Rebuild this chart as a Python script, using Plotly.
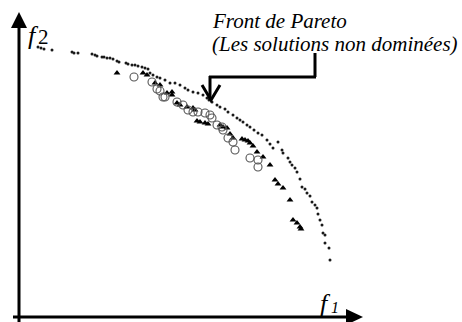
import plotly.graph_objects as go

# Objective space: f1 to the right, f2 upwards (origin where the axes cross)
# Pareto front (non-dominated solutions)
front_f1 = [19, 22, 25, 33, 53, 55, 59, 73, 76, 78, 83, 85, 88, 91, 94, 98, 100,
            107, 109, 113, 116, 119, 123, 126, 129, 131, 134, 138, 141, 146, 151,
            156, 161, 166, 169, 174, 179, 184, 188, 190, 193, 198, 201, 206, 209,
            214, 218, 221, 224, 228, 231, 235, 239, 243, 248, 251, 254, 259, 263,
            264, 269, 271, 273, 276, 278, 281, 283, 286, 288, 291, 293, 296, 298,
            299, 301, 303, 304, 306, 306, 310, 311]
front_f2 = [270, 269, 268, 267, 265, 264, 264, 263, 262, 261, 260, 260, 259, 259,
            258, 256, 255, 254, 253, 252, 252, 251, 250, 249, 248, 244, 242, 240,
            239, 237, 234, 234, 232, 229, 227, 225, 224, 222, 219, 217, 215, 212,
            210, 208, 205, 202, 199, 197, 195, 192, 190, 187, 184, 182, 177, 173,
            169, 175, 167, 164, 159, 155, 152, 149, 145, 138, 130, 128, 124, 121,
            115, 112, 109, 103, 97, 92, 84, 82, 74, 69, 57, 56, 40]

# Second population (filled triangles)
tri_f1 = [98, 124, 128, 136, 141, 148, 153, 153, 158, 161, 168, 174, 176, 178,
          181, 186, 189, 201, 204, 208, 211, 214, 223, 226, 229, 231, 234, 238,
          244, 251, 256, 259, 264, 271, 274, 278, 281, 282]
tri_f2 = [244, 244, 242, 234, 232, 224, 222, 225, 214, 212, 210, 209, 207, 196,
          195, 194, 193, 192, 190, 189, 183, 179, 178, 177, 176, 174, 171, 165,
          160, 152, 137, 133, 129, 117, 97, 94, 90, 88]

# Third population (open circles)
circ_f1 = [115, 133, 138, 141, 144, 146, 158, 164, 169, 174, 179, 186, 191, 193,
           198, 203, 204, 209, 214, 216, 231, 239, 239]
circ_f2 = [240, 235, 228, 226, 220, 220, 215, 212, 207, 205, 205, 204, 202, 199,
           192, 190, 187, 179, 175, 167, 159, 157, 150]

SERIF = "Liberation Serif"

fig = go.Figure()
fig.add_trace(go.Scatter(x=front_f1, y=front_f2, mode="markers",
                         marker=dict(symbol="circle", size=3, color="#1a1a1a")))
fig.add_trace(go.Scatter(x=tri_f1, y=tri_f2, mode="markers",
                         marker=dict(symbol="triangle-up", size=6, color="#000000")))
fig.add_trace(go.Scatter(x=circ_f1, y=circ_f2, mode="markers",
                         marker=dict(symbol="circle-open", size=8,
                                     color="#555555", line=dict(width=1.1))))

line = dict(color="black", width=3)
shapes = [
    # axes
    dict(type="line", x0=0, y0=-6, x1=0, y1=292, line=line),
    dict(type="line", x0=-6, y0=0, x1=330, y1=0, line=line),
    dict(type="path", path="M -8 289 L 0 305 L 8 289 Z",
         fillcolor="black", line=dict(color="black", width=0)),
    dict(type="path", path="M 327 8 L 344 0 L 327 -8 Z",
         fillcolor="black", line=dict(color="black", width=0)),
    # pointer to the front
    dict(type="line", x0=296, y0=264, x1=296, y1=240, line=line),
    dict(type="line", x0=190, y0=240, x1=297, y1=240, line=line),
    dict(type="line", x0=191, y0=241, x1=191, y1=218, line=line),
    dict(type="path", path="M 183 232 L 192 217 L 201 232",
         line=dict(color="black", width=3)),
]

def label(x, y, text, size):
    return dict(x=x, y=y, text=text, showarrow=False,
                xanchor="left", yanchor="middle",
                font=dict(family=SERIF, size=size, color="black"))

annotations = [
    label(191, 296, "<i>Front de Pareto</i>", 21),
    label(191, 273, "<i>(Les solutions non dominées)</i>", 21),
    label(7, 282, "<i>f</i>", 26),
    label(17, 280, "2", 21),
    label(299, 14, "<i>f</i>", 26),
    label(310, 10, "<i>1</i>", 16),
]

fig.update_layout(
    width=462, height=322,
    margin=dict(l=0, r=0, t=0, b=0),
    paper_bgcolor="white", plot_bgcolor="white",
    showlegend=False,
    xaxis=dict(range=[-19, 443], visible=False, fixedrange=True),
    yaxis=dict(range=[-5, 317], visible=False, fixedrange=True),
    shapes=shapes,
    annotations=annotations,
)

fig.write_html("out.html", config={"displayModeBar": False})
